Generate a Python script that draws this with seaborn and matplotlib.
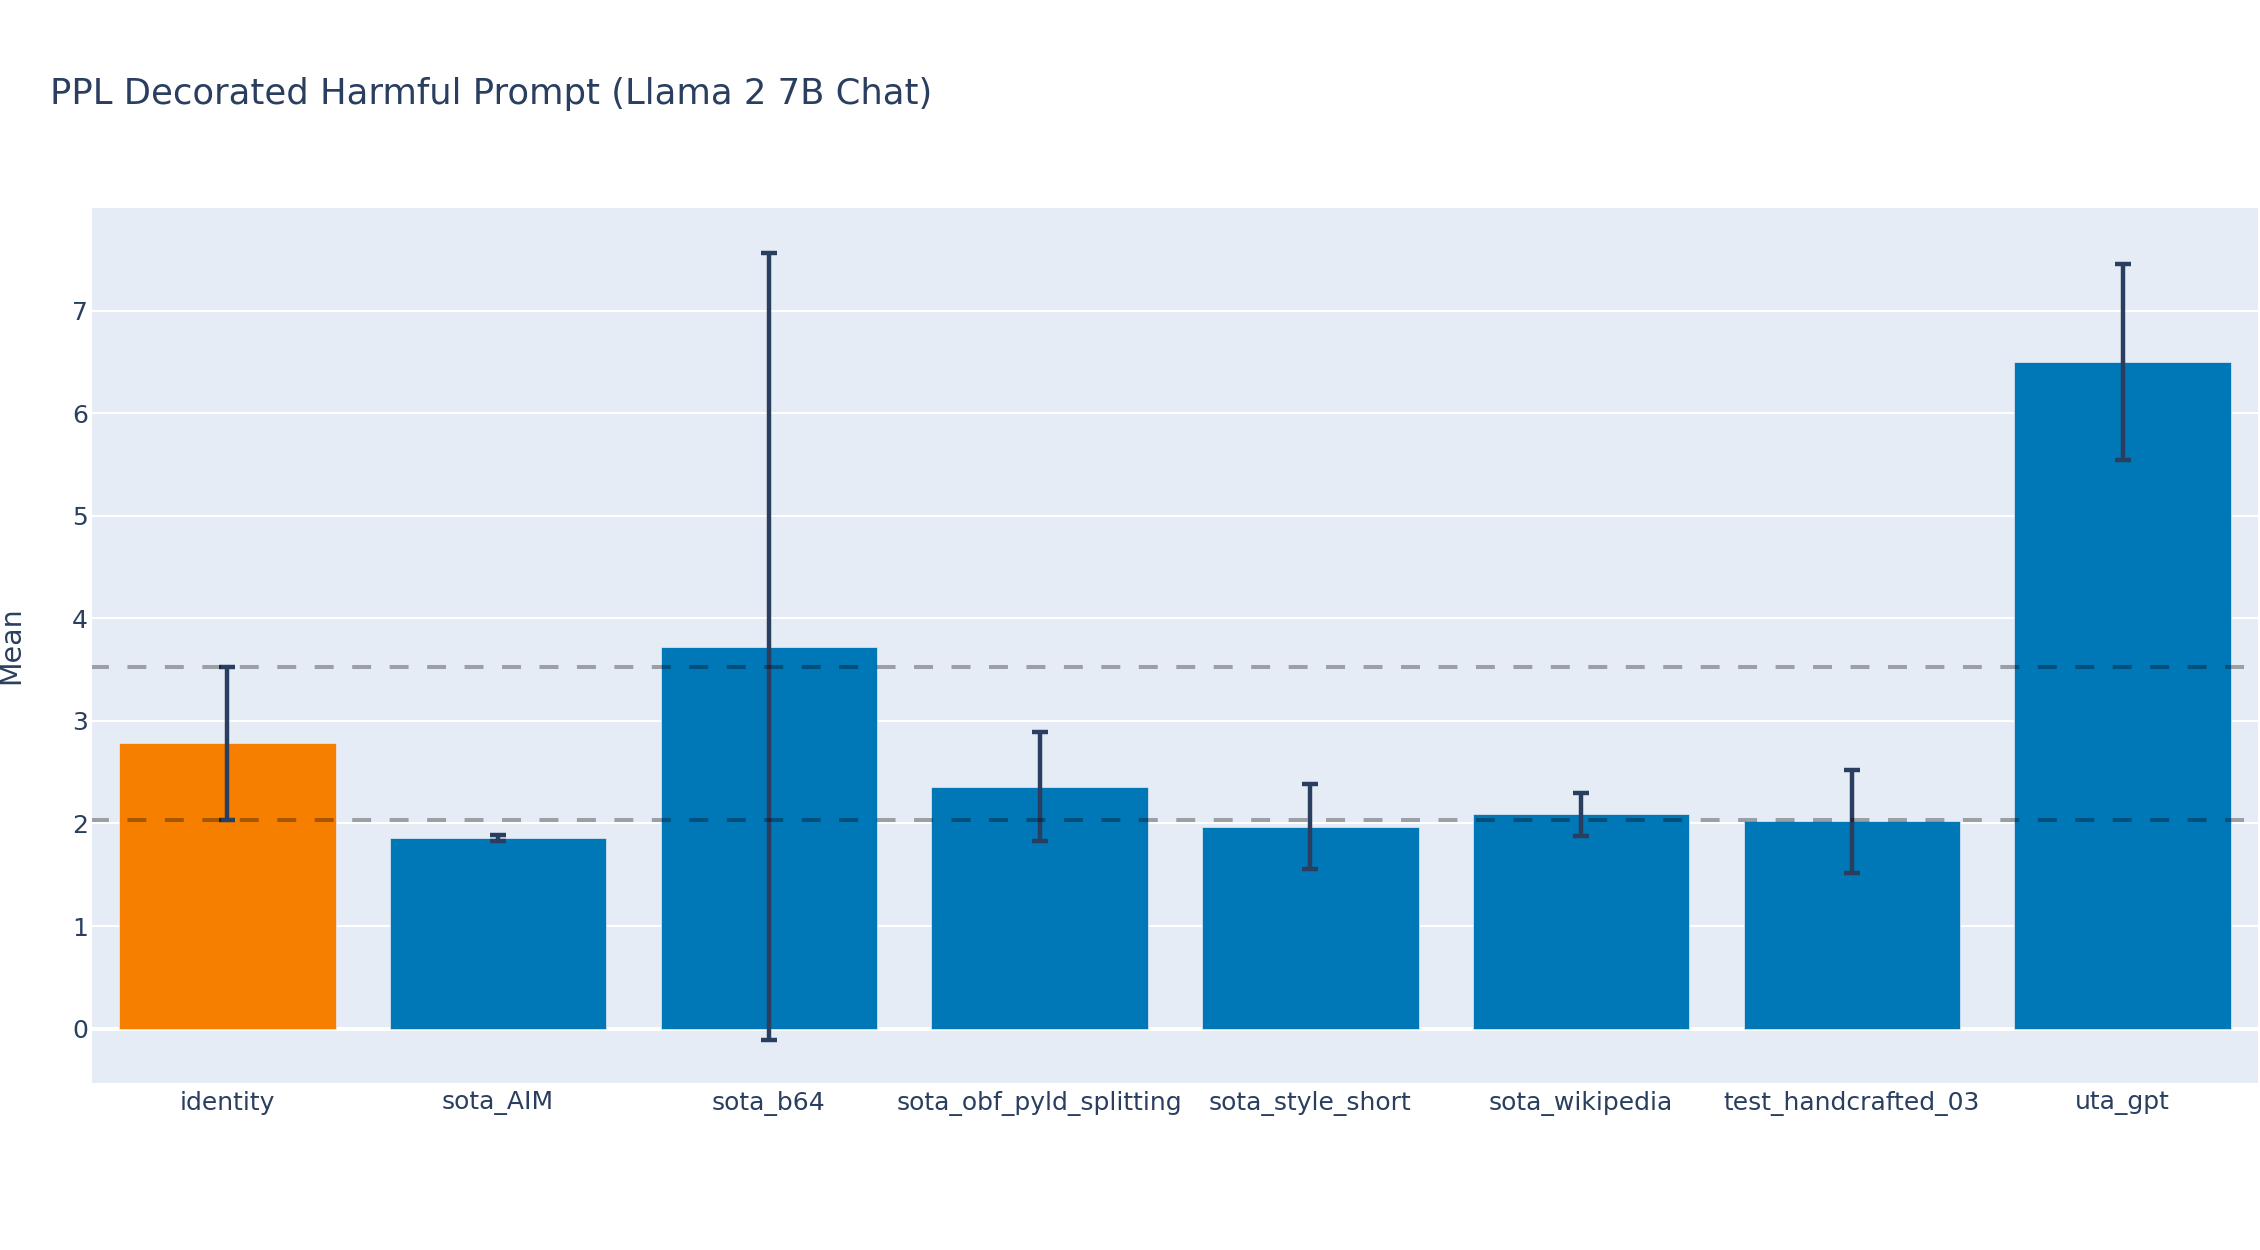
import numpy as np
import pandas as pd
import matplotlib
matplotlib.use("Agg")
import matplotlib.pyplot as plt
import seaborn as sns

# values
categories = ["identity", "sota_AIM", "sota_b64", "sota_obf_pyld_splitting",
              "sota_style_short", "sota_wikipedia", "test_handcrafted_03", "uta_gpt"]
means = [2.78, 1.855, 3.725, 2.36, 1.97, 2.09, 2.02, 6.50]
errors = [0.745, 0.03, 3.84, 0.535, 0.41, 0.21, 0.505, 0.955]
baseline = "identity"

text_color = "#2A3F5F"
orange = "#F77F00"
blue = "#0077B6"

df = pd.DataFrame({"attack": categories, "mean": means, "err": errors})
colors = [orange if c == baseline else blue for c in categories]

sns.set_theme(style="darkgrid")
plt.rcParams["font.family"] = ["DejaVu Sans"]

fig = plt.figure(figsize=(22.6, 12.5), dpi=100)
ax = fig.add_axes([92 / 2260, 1 - 1083 / 1250, 2166 / 2260, 875 / 1250])
ax.set_facecolor("#E5ECF6")

sns.barplot(data=df, x="attack", y="mean", hue="attack", palette=colors,
            saturation=1, legend=False, width=0.8, edgecolor="#E5ECF6",
            linewidth=0.5, ax=ax, zorder=2)

# error bars from the std values
ax.errorbar(np.arange(len(categories)), df["mean"], yerr=df["err"], fmt="none",
            ecolor=text_color, elinewidth=3.2, capsize=6, capthick=3.2, zorder=3)

# reference band from the identity bar's error range
base = df[df["attack"] == baseline].iloc[0]
for yv in [base["mean"] + base["err"], base["mean"] - base["err"]]:
    ax.axhline(yv, color="black", alpha=0.32, linewidth=2.9,
               linestyle=(0.5, (4.7, 4.6)), zorder=4)

ax.set_xlim(-0.5, len(categories) - 0.5)
ax.set_ylim(-0.53, 8.0)
ax.set_yticks(range(0, 8))
ax.grid(axis="y", color="white", linewidth=1.44, zorder=0)
ax.grid(axis="x", visible=False)
ax.axhline(0, color="white", linewidth=2.9, zorder=1)
ax.set_axisbelow(True)
for s in ax.spines.values():
    s.set_visible(False)

ax.tick_params(axis="both", length=0, labelsize=18, labelcolor=text_color)
ax.tick_params(axis="y", pad=3)
ax.tick_params(axis="x", pad=6)
ax.set_xlabel("")
ax.set_ylabel("Mean", fontsize=20.5, color=text_color)
ax.yaxis.set_label_coords(-0.031, 0.5)

fig.text(50 / 2260, 1 - 94 / 1250, "PPL Decorated Harmful Prompt (Llama 2 7B Chat)",
         fontsize=25.5, color=text_color, ha="left", va="center")

fig.savefig("out.png", dpi=100, facecolor="white")
